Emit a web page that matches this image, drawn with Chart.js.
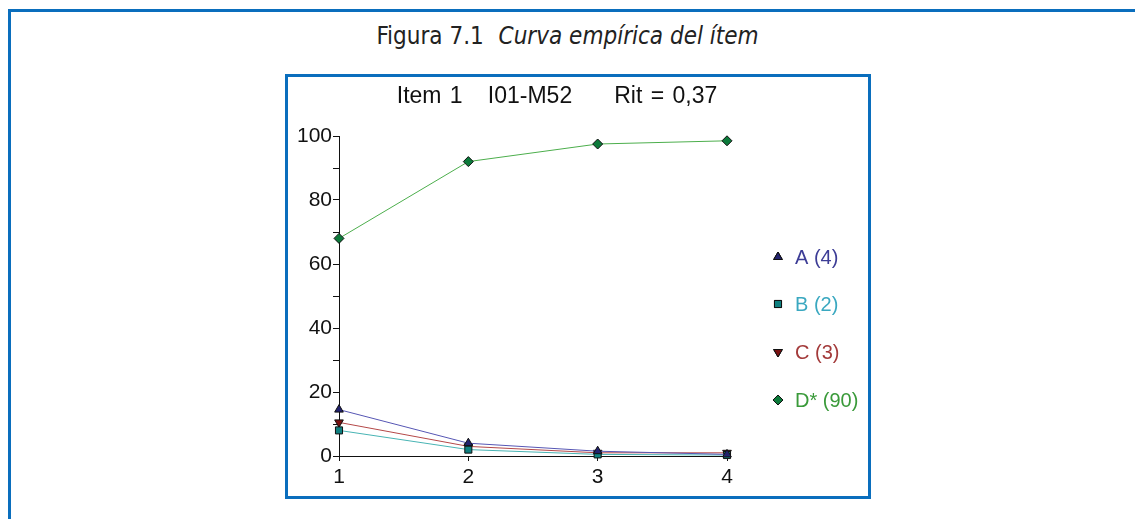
<!DOCTYPE html>
<html>
<head>
<meta charset="utf-8">
<script src="https://cdn.jsdelivr.net/npm/chart.js@4/dist/chart.umd.min.js"></script>
<style>
    body { margin: 0; background: #fff; width: 1135px; height: 519px; overflow: hidden; position: relative; }
    #frame { position: absolute; left: 8px; top: 9px; width: 1200px; height: 600px; border-left: 3px solid #0a6ebd; border-top: 3px solid #0a6ebd; }
    #caption { position: absolute; left: 0; width: 1135px; top: 22px; text-align: center; font-family: "Liberation Sans Narrow", "DejaVu Sans Condensed", sans-serif; font-size: 24px; color: #222; }
    #caption i { margin-left: 8px; }
    #box { position: absolute; left: 285px; top: 74px; width: 580px; height: 419px; border: 3px solid #0a6ebd; }
    #title { position: absolute; left: 0; width: 538px; top: 5px; text-align: center; font-family: "Liberation Sans", Arial, sans-serif; font-size: 23px; color: #111; white-space: pre; word-spacing: 2px; }
    #chart { position: absolute; left: 0; top: 0; }
</style>
</head>
<body>
<div id="frame"></div>
<div id="caption">Figura 7.1 <i>Curva empírica del ítem</i></div>
<div id="box">
    <canvas id="chart" width="580" height="419"></canvas>
    <div id="title">Item 1   I01-M52     Rit = 0,37</div>
</div>
<script>
// 数据
const groups = [1, 2, 3, 4];
const seriesNames = ["A (4)", "B (2)", "C (3)", "D* (90)"];
const valuesA = [14.5, 4, 1.5, 0.5];
const valuesB = [8, 2, 0.5, 0.3];
const valuesC = [10.5, 3, 1, 1];
const valuesD = [68, 92, 97.5, 98.5];
const yTicks = [0, 20, 40, 60, 80, 100];

const lineColors = ["#5656b4", "#48b4b4", "#b44848", "#4cae4c"];
const pointColors = ["#22226e", "#0f8080", "#7a1010", "#0c7a3a"];
const textColors = ["#3d3d96", "#3aa8c0", "#a33a3a", "#3a9a3a"];
const pointStyles = ["triangle", "rect", "triangle", "rectRot"];
const pointRotations = [0, 0, 180, 0];

const allValues = [valuesA, valuesB, valuesC, valuesD];

// 自定义图例
const sideLegend = {
    id: "sideLegend",
    afterDraw(chart) {
        const ctx = chart.ctx;
        const ys = [180, 227, 275, 323];
        ctx.save();
        chart.data.datasets.forEach((ds, i) => {
            Chart.helpers.drawPoint(ctx, {
                pointStyle: pointStyles[i],
                rotation: pointRotations[i],
                radius: 5,
                borderWidth: 1
            }, 490, ys[i]);
            ctx.fillStyle = pointColors[i];
            ctx.strokeStyle = "#111";
            ctx.lineWidth = 1;
            ctx.fill();
            ctx.stroke();
            ctx.font = "20px 'Liberation Sans', Arial, sans-serif";
            ctx.fillStyle = textColors[i];
            ctx.textBaseline = "middle";
            ctx.textAlign = "left";
            ctx.fillText(seriesNames[i], 507, ys[i] + 1);
        });
        ctx.restore();
    }
};

const ctx = document.getElementById("chart").getContext("2d");
const chart = new Chart(ctx, {
    type: "line",
    data: {
        datasets: allValues.map((vals, i) => ({
            label: seriesNames[i],
            data: vals.map((v, k) => ({ x: groups[k], y: v })),
            borderColor: lineColors[i],
            borderWidth: 1,
            backgroundColor: pointColors[i],
            pointBackgroundColor: pointColors[i],
            pointBorderColor: "#111",
            pointBorderWidth: 1,
            pointStyle: pointStyles[i],
            rotation: pointRotations[i],
            pointRadius: 5,
            tension: 0,
            fill: false,
            clip: false
        }))
    },
    options: {
        responsive: false,
        animation: false,
        layout: { padding: { top: 59, right: 141, left: 0, bottom: 0 } },
        plugins: { legend: { display: false }, tooltip: { enabled: false } },
        scales: {
            x: {
                type: "linear",
                min: 1,
                max: 4,
                afterBuildTicks: (s) => { s.ticks = groups.map(v => ({ value: v })); },
                grid: { drawOnChartArea: false, drawTicks: true, tickLength: 5, color: "#111" },
                border: { color: "#111", width: 1 },
                ticks: { color: "#111", padding: 4, font: { family: "'Liberation Sans', Arial, sans-serif", size: 21 } },
                afterFit: (s) => { s.height = 40; }
            },
            y: {
                min: 0,
                max: 100,
                ticks: {
                    stepSize: 10,
                    color: "#111",
                    padding: 1,
                    font: { family: "'Liberation Sans', Arial, sans-serif", size: 21 },
                    callback: (v) => yTicks.includes(v) ? v : ""
                },
                grid: { drawOnChartArea: false, drawTicks: true, tickLength: 6, color: "#111" },
                border: { color: "#111", width: 1 },
                afterFit: (s) => { s.width = 51; }
            }
        }
    },
    plugins: [sideLegend]
});
</script>
</body>
</html>
